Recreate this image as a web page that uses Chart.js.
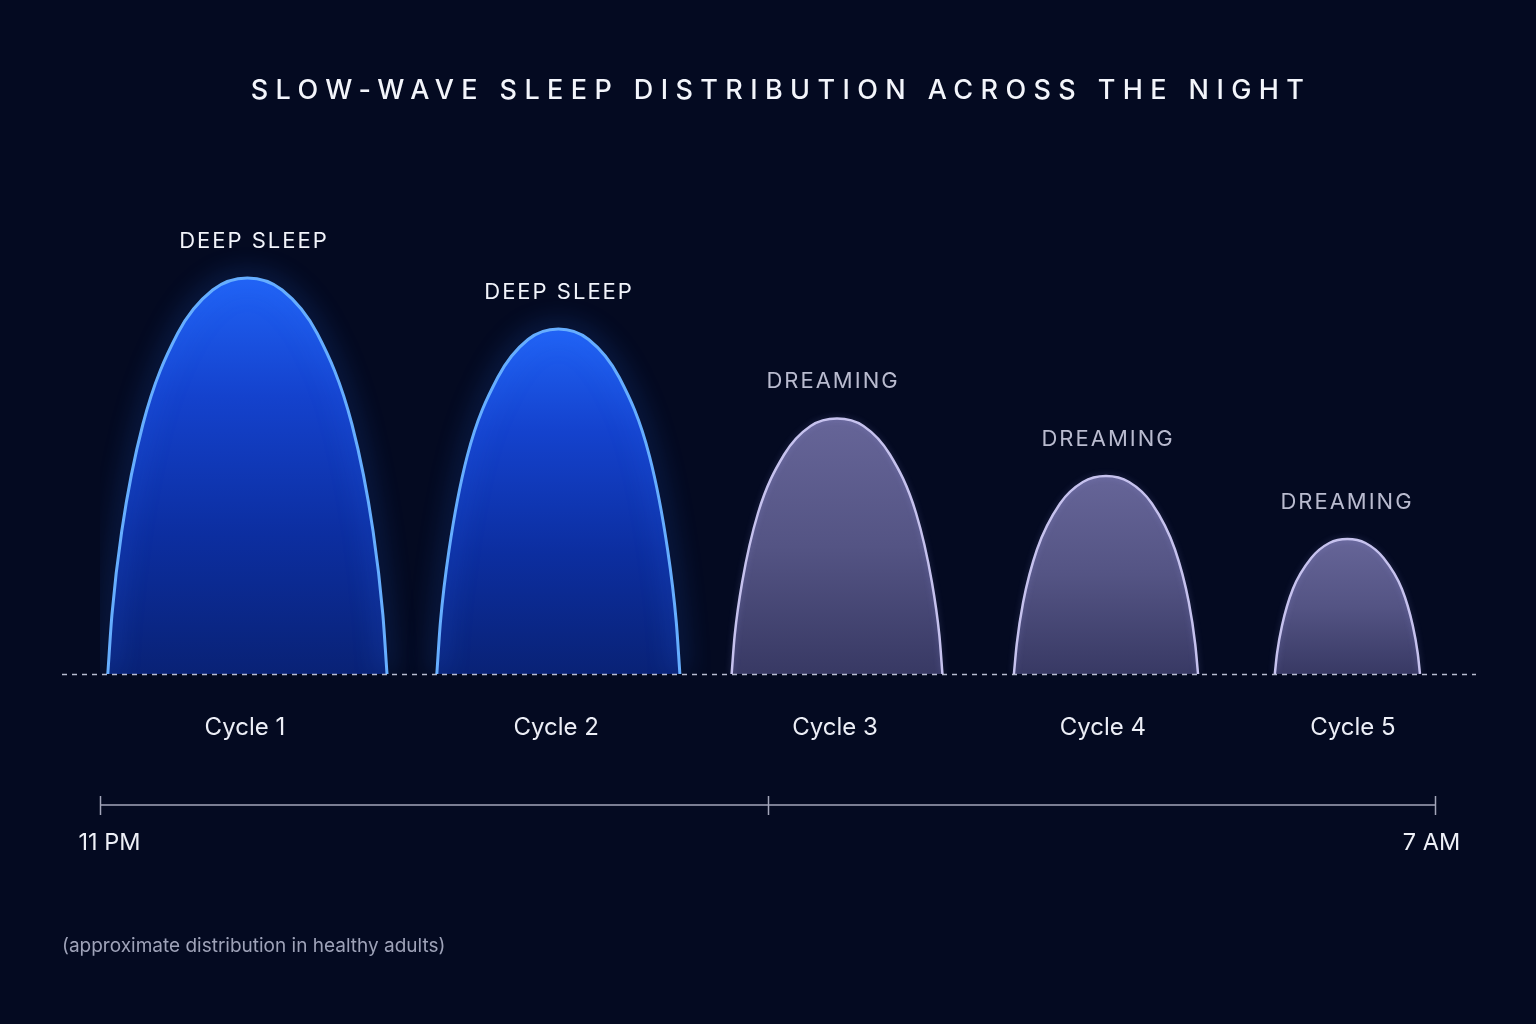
<!DOCTYPE html>
<html><head><meta charset="utf-8">
<script src="https://cdn.jsdelivr.net/npm/chart.js@4.4.1/dist/chart.umd.min.js"></script>
<style>html,body{margin:0;padding:0;background:#040a21;}canvas{display:block}</style>
</head><body>
<canvas id="c" width="1536" height="1024"></canvas>
<script>
// ---- text ----
const chartTitle = 'SLOW-WAVE SLEEP DISTRIBUTION ACROSS THE NIGHT';
const footnote = '(approximate distribution in healthy adults)';
const cycleLabels = ['Cycle 1', 'Cycle 2', 'Cycle 3', 'Cycle 4', 'Cycle 5'];
const cycleLabelMinutes = [52.1, 164.0, 264.3, 360.6, 450.5];
const stageLabels = ['DEEP SLEEP', 'DEEP SLEEP', 'DREAMING', 'DREAMING', 'DREAMING'];
const stageLabelMinutes = [55.0, 164.7, 263.2, 362.1, 448.0];
const stageKinds = ['deep', 'deep', 'dream', 'dream', 'dream'];
// time axis: minutes after 11 PM
const timeTickValues = [0, 240, 480];
const timeTickLabels = ['11 PM', '', '7 AM'];

// ---- arch outlines (x: minutes after 11 PM, y: relative depth) ----
const cycle1Minutes = [2.8, 4.3, 7.8, 15.4, 27.9, 40.5, 53.0, 65.5, 78.1, 90.6, 98.2, 101.7, 103.2];
const cycle1Depth   = [0, 11.9, 28.5, 49.9, 68.1, 76.8, 79.2, 76.8, 68.1, 49.9, 28.5, 11.9, 0];
const cycle2Minutes = [121.1, 122.4, 125.5, 132.0, 143.0, 153.9, 164.8, 175.7, 186.7, 197.6, 204.1, 207.2, 208.5];
const cycle2Depth   = [0, 10.4, 24.8, 43.5, 59.3, 66.9, 69.0, 66.9, 59.3, 43.5, 24.8, 10.4, 0];
const cycle3Minutes = [227.1, 228.2, 230.9, 236.6, 246.0, 255.5, 265.0, 274.5, 284.0, 293.4, 299.1, 301.8, 302.9];
const cycle3Depth   = [0, 7.7, 18.4, 32.2, 43.9, 49.6, 51.1, 49.6, 43.9, 32.2, 18.4, 7.7, 0];
const cycle4Minutes = [328.6, 329.6, 331.9, 336.9, 345.2, 353.4, 361.7, 370.0, 378.2, 386.5, 391.5, 393.8, 394.8];
const cycle4Depth   = [0, 5.9, 14.3, 24.9, 34.1, 38.4, 39.6, 38.4, 34.1, 24.9, 14.3, 5.9, 0];
const cycle5Minutes = [422.4, 423.2, 425.0, 428.9, 435.5, 442.0, 448.5, 455.0, 461.5, 468.1, 472.0, 473.8, 474.6];
const cycle5Depth   = [0, 4.1, 9.7, 17.0, 23.2, 26.2, 27.0, 26.2, 23.2, 17.0, 9.7, 4.1, 0];

const allMinutes = [cycle1Minutes, cycle2Minutes, cycle3Minutes, cycle4Minutes, cycle5Minutes];
const allDepth = [cycle1Depth, cycle2Depth, cycle3Depth, cycle4Depth, cycle5Depth];

const FONT = 'Inter, "Noto Sans", "DejaVu Sans", sans-serif';

function archFill(kind) {
  return function (ctx) {
    const chart = ctx.chart;
    const area = chart.chartArea;
    if (!area) return 'rgba(0,0,0,0)';
    const ys = chart.scales.y;
    const peak = Math.max.apply(null, allDepth[ctx.datasetIndex]);
    const top = ys.getPixelForValue(peak);
    const bottom = ys.getPixelForValue(0);
    const g = chart.ctx.createLinearGradient(0, top, 0, bottom);
    if (kind === 'deep') {
      g.addColorStop(0, 'rgb(32,98,245)');
      g.addColorStop(0.3, 'rgb(20,66,205)');
      g.addColorStop(0.65, 'rgb(12,46,160)');
      g.addColorStop(1, 'rgb(9,34,118)');
    } else {
      g.addColorStop(0, 'rgb(102,101,152)');
      g.addColorStop(0.5, 'rgb(84,84,132)');
      g.addColorStop(1, 'rgb(56,57,100)');
    }
    return g;
  };
}

const datasets = allMinutes.map((mins, i) => ({
  label: cycleLabels[i],
  data: mins.map((m, k) => ({ x: m, y: allDepth[i][k] })),
  fill: 'origin',
  backgroundColor: archFill(stageKinds[i]),
  borderColor: stageKinds[i] === 'deep' ? '#66aeff' : '#c6c2ee',
  borderWidth: stageKinds[i] === 'deep' ? 3 : 2.5,
  pointRadius: 0,
  cubicInterpolationMode: 'monotone'
}));

const glowPlugin = {
  id: 'glow',
  beforeDatasetDraw(chart, args) {
    const ctx = chart.ctx;
    ctx.save();
    if (stageKinds[args.index] === 'deep') {
      ctx.shadowColor = 'rgba(45,115,255,1)';
      ctx.shadowBlur = 26;
    } else {
      ctx.shadowColor = 'rgba(170,170,255,0.25)';
      ctx.shadowBlur = 6;
    }
  },
  afterDatasetDraw(chart) {
    chart.ctx.restore();
  }
};

const decorPlugin = {
  id: 'decor',
  beforeDraw(chart) {
    const ctx = chart.ctx;
    ctx.save();
    ctx.fillStyle = '#040a21';
    ctx.fillRect(0, 0, chart.width, chart.height);
    ctx.restore();
  },
  afterDatasetsDraw(chart) {
    const ctx = chart.ctx;
    const xs = chart.scales.x, ys = chart.scales.y;
    const base = ys.getPixelForValue(0);
    ctx.save();
    // dashed baseline
    ctx.strokeStyle = 'rgba(215,220,238,0.85)';
    ctx.lineWidth = 1.5;
    ctx.setLineDash([5, 5]);
    ctx.beginPath();
    ctx.moveTo(xs.getPixelForValue(timeTickValues[0]) - 38, base + 0.5);
    ctx.lineTo(xs.getPixelForValue(timeTickValues[timeTickValues.length - 1]) + 41, base + 0.5);
    ctx.stroke();
    ctx.setLineDash([]);

    // stage labels above arches & cycle labels below
    ctx.textAlign = 'center';
    ctx.textBaseline = 'middle';
    allMinutes.forEach((mins, i) => {
      const peak = Math.max.apply(null, allDepth[i]);
      const py = ys.getPixelForValue(peak);
      ctx.font = '400 22px ' + FONT;
      ctx.letterSpacing = '2px';
      ctx.fillStyle = stageKinds[i] === 'deep' ? '#f2f4fb' : '#b9bbcf';
      ctx.fillText(stageLabels[i], xs.getPixelForValue(stageLabelMinutes[i]) + 1, py - 37);
      ctx.letterSpacing = '0px';
      ctx.font = '400 24px ' + FONT;
      ctx.fillStyle = '#eceef6';
      ctx.fillText(cycleLabels[i], xs.getPixelForValue(cycleLabelMinutes[i]), base + 54);
    });

    // timeline
    const ty = base + 131;
    const x0 = xs.getPixelForValue(timeTickValues[0]);
    const x1 = xs.getPixelForValue(timeTickValues[timeTickValues.length - 1]);
    ctx.strokeStyle = '#a3a6ba';
    ctx.lineWidth = 1.5;
    ctx.beginPath();
    ctx.moveTo(x0, ty);
    ctx.lineTo(x1, ty);
    ctx.stroke();
    ctx.font = '400 23.5px ' + FONT;
    ctx.fillStyle = '#eef0f7';
    timeTickValues.forEach((v, i) => {
      const px = Math.round(xs.getPixelForValue(v)) + 0.5;
      ctx.beginPath();
      ctx.moveTo(px, ty - 9);
      ctx.lineTo(px, ty + 10);
      ctx.stroke();
      if (timeTickLabels[i]) ctx.fillText(timeTickLabels[i], px + (i === 0 ? 9 : -4), ty + 38);
    });

    // title
    ctx.font = '500 27px ' + FONT;
    ctx.letterSpacing = '7.4px';
    ctx.fillStyle = '#f3f5fb';
    ctx.fillText(chartTitle, 781, 91);
    ctx.letterSpacing = '0px';

    // footnote
    ctx.textAlign = 'left';
    ctx.font = '400 19px ' + FONT;
    ctx.fillStyle = '#9ea2b8';
    ctx.fillText(footnote, 62, 946);
    ctx.restore();
  }
};

new Chart(document.getElementById('c'), {
  type: 'line',
  data: { datasets },
  options: {
    responsive: false,
    animation: false,
    layout: { padding: { left: 100, right: 101, top: 174, bottom: 350 } },
    scales: {
      x: { type: 'linear', min: 0, max: 480, display: false },
      y: { min: 0, max: 100, display: false }
    },
    plugins: { legend: { display: false }, tooltip: { enabled: false }, title: { display: false } }
  },
  plugins: [decorPlugin, glowPlugin]
});
</script>
</body></html>
